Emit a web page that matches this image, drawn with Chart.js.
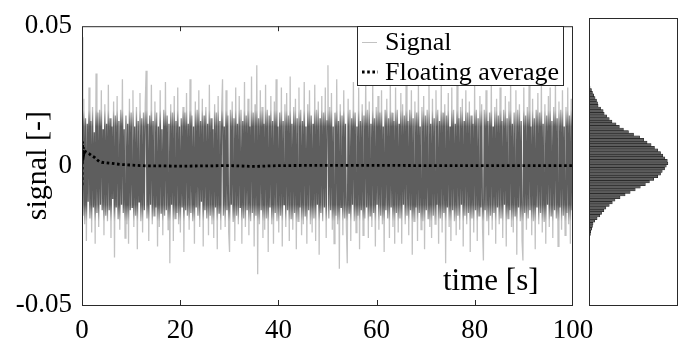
<!DOCTYPE html>
<html>
<head>
<meta charset="utf-8">
<script src="https://cdn.jsdelivr.net/npm/chart.js@4.4.1/dist/chart.umd.min.js"></script>
<style>
  html, body { margin: 0; padding: 0; background: #fff; }
  #wrap { position: relative; width: 694px; height: 343px; }
  #main { position: absolute; left: 0; top: 0; }
  #hist { position: absolute; left: 589px; top: 18px; }
</style>
</head>
<body>
<div id="wrap">
  <canvas id="main" width="694" height="343"></canvas>
  <canvas id="hist" width="89" height="289"></canvas>
</div>
<script>
// signal samples [-], evenly spaced over 0..100 s
const signal = [
  0.046,-0.018,0.024,-0.021,0.017,-0.027,0.015,-0.013,0.028,-0.019,0.016,-0.024,0.021,-0.015,0.012,-0.028,0.033,-0.017,0.019,-0.022,
  0.020,-0.014,0.027,-0.016,0.013,-0.025,0.022,-0.018,0.015,-0.020,0.029,-0.016,0.017,-0.026,0.014,-0.012,0.023,-0.033,0.018,-0.015,
  0.025,-0.019,0.016,-0.023,0.020,-0.014,0.031,-0.017,0.013,-0.026,0.018,-0.021,0.015,-0.028,0.024,-0.016,0.019,-0.015,0.027,-0.022,
  0.014,-0.018,0.021,-0.030,0.016,-0.013,0.026,-0.020,0.017,-0.024,0.019,-0.016,0.022,0.034,-0.019,0.015,-0.027,0.018,-0.014,0.029,
  -0.021,0.016,-0.018,0.023,-0.015,0.019,-0.029,0.014,-0.022,0.027,-0.017,0.013,-0.025,0.020,-0.018,0.030,-0.016,0.018,-0.023,0.015,
  -0.035,0.022,-0.014,0.019,-0.027,0.025,-0.019,0.016,-0.017,0.028,-0.021,0.014,-0.024,0.017,-0.015,0.021,-0.031,0.019,-0.016,0.026,
  -0.018,0.015,-0.023,0.031,-0.017,0.018,-0.020,0.014,-0.028,0.023,-0.015,0.020,-0.018,0.027,-0.022,0.016,-0.013,0.024,-0.029,0.018,
  -0.016,0.021,-0.019,0.015,-0.025,0.029,-0.018,0.017,-0.021,0.013,-0.026,0.022,-0.015,0.019,-0.030,0.025,-0.017,0.016,-0.023,0.020,
  0.031,-0.018,0.014,-0.022,0.027,-0.016,0.018,-0.024,-0.031,0.020,-0.014,0.023,-0.020,0.017,-0.027,0.028,-0.018,0.015,-0.021,0.025,
  -0.015,0.020,-0.028,0.016,-0.019,0.030,-0.022,0.018,-0.016,0.024,-0.025,0.014,-0.020,0.032,-0.017,0.019,-0.029,0.022,-0.018,0.036,
  -0.039,0.017,-0.021,0.027,-0.016,0.021,-0.026,0.015,-0.023,0.029,-0.019,0.020,-0.031,0.018,-0.015,0.025,-0.021,0.016,-0.028,0.023,
  -0.017,0.031,-0.020,0.014,-0.024,0.019,-0.018,0.028,-0.029,0.016,-0.014,0.022,-0.022,0.026,-0.016,0.018,-0.027,0.032,-0.019,0.015,
  -0.023,0.021,-0.017,0.024,-0.030,0.017,-0.020,0.028,-0.015,0.020,-0.025,0.016,-0.021,0.030,-0.018,0.014,-0.028,0.022,-0.016,0.027,
  -0.021,0.018,-0.024,0.015,-0.019,0.029,-0.027,0.020,-0.014,0.023,-0.032,0.017,-0.017,0.025,-0.020,0.019,-0.015,0.028,-0.026,0.016,
  0.036,-0.019,0.021,-0.016,0.026,-0.023,0.014,-0.028,0.019,-0.018,0.031,-0.021,0.016,-0.037,0.022,-0.015,0.018,-0.025,0.027,-0.019,
  0.015,-0.022,-0.035,0.024,-0.017,0.020,-0.027,0.017,-0.014,0.030,-0.020,0.019,-0.024,0.014,-0.018,0.028,-0.030,0.016,-0.016,0.022,
  -0.025,0.018,-0.019,0.032,-0.015,0.020,-0.026,0.023,-0.018,0.015,-0.022,0.029,-0.017,0.017,-0.029,0.021,-0.014,0.025,-0.023,0.019,
  -0.018,0.027,-0.021,0.014,-0.031,0.020,-0.016,0.024,-0.019,0.017,-0.026,0.030,-0.015,0.019,-0.022,0.016,-0.028,0.028,-0.017,0.020,
  -0.024,0.015,-0.019,0.026,-0.028,0.022,-0.014,0.018,-0.021,0.031,-0.018,0.016,-0.025,0.020,-0.016,0.027,-0.032,0.017,-0.020,0.023,
  -0.015,0.019,-0.027,0.029,-0.017,0.014,-0.023,0.021,-0.020,0.025,-0.030,0.018,-0.016,0.020,-0.019,0.033,-0.022,0.015,-0.026,0.024,
  -0.018,0.017,-0.021,0.027,-0.014,0.020,-0.028,0.016,-0.019,0.030,-0.024,0.019,-0.017,0.022,-0.035,0.018,-0.015,0.026,-0.022,0.014,
  -0.027,0.028,-0.016,0.020,-0.020,0.015,-0.025,0.032,-0.018,0.017,-0.023,0.021,-0.014,0.024,-0.029,0.016,-0.018,0.027,-0.021,0.019,
  -0.017,0.023,-0.031,0.018,-0.019,0.015,-0.024,0.029,-0.016,0.020,-0.027,0.017,-0.018,0.025,-0.015,0.022,-0.022,-0.034,0.020,-0.016,
  0.027,-0.020,0.016,-0.025,0.019,-0.018,0.031,-0.023,0.014,-0.017,0.021,-0.028,0.024,-0.015,0.018,-0.021,0.028,-0.019,0.016,-0.026,
  0.020,-0.014,0.025,-0.029,0.017,-0.019,0.023,-0.016,0.030,-0.022,0.015,-0.024,0.019,-0.018,0.027,-0.032,0.020,-0.015,0.022,-0.020,
  0.016,-0.027,-0.034,0.028,-0.017,0.018,-0.023,0.021,-0.019,0.029,-0.016,0.014,-0.025,0.024,-0.020,0.017,-0.030,0.020,-0.015,0.026,
  -0.021,0.019,-0.017,0.031,-0.024,0.015,-0.020,0.022,-0.028,0.018,-0.014,0.025,-0.022,0.028,-0.018,0.016,-0.026,0.021,-0.016,0.030,
  -0.019,0.017,-0.029,0.023,-0.015,0.020,-0.023,0.027,-0.018,0.014,-0.025,0.021,-0.017,0.028,-0.021,0.018,-0.028,0.024,-0.016,0.019
];
const duration = 100; // s
const sampleTimes = signal.map((_, i) => i * duration / (signal.length - 1));

// floating average
const avgTimes = [0, 0.1, 0.2, 0.3, 0.4, 0.5, 0.7, 1, 1.5, 2, 2.5, 3, 3.5, 4, 5, 6, 8, 10, 13, 16, 20, 25, 30, 35, 40, 50, 60, 70, 80, 90, 100];
const avgValues = [-0.007, 0.0086, 0.002, 0.0065, 0.0045, 0.0055, 0.005, 0.0047, 0.0042, 0.0035, 0.003, 0.0022, 0.0015, 0.0012, 0.001, 0.0008, 0.0004, 0.0002, -0.0001, -0.0001, -0.0002, -0.0001, 0, -0.0003, 0, 0.0001, 0.0001, 0, 0, 0, 0];

// histogram of the signal: bin centres and counts
const binCenters = [
  -0.0285,-0.0275,-0.0265,-0.0255,-0.0245,-0.0235,-0.0225,-0.0215,-0.0205,-0.0195,
  -0.0185,-0.0175,-0.0165,-0.0155,-0.0145,-0.0135,-0.0125,-0.0115,-0.0105,-0.0095,
  -0.0085,-0.0075,-0.0065,-0.0055,-0.0045,-0.0035,-0.0025,-0.0015,-0.0005,0.0005,
  0.0015,0.0025,0.0035,0.0045,0.0055,0.0065,0.0075,0.0085,0.0095,0.0105,
  0.0115,0.0125,0.0135,0.0145,0.0155,0.0165,0.0175,0.0185,0.0195,0.0205,
  0.0215,0.0225,0.0235,0.0245,0.0255,0.0265,0.0275,0.0285
];
const binCounts = [
  7,14,17,27,34,40,57,80,107,124,
  147,167,200,230,257,307,357,407,457,507,
  557,597,640,680,707,724,747,764,780,774,
  750,730,707,680,647,614,574,540,500,440,
  390,340,300,267,227,200,174,150,140,114,
  90,84,74,60,47,34,24,10
];

const xTicks = { min: 0, max: 100, step: 20 };
const yTicks = { min: -0.05, max: 0.05, step: 0.05 };

const serif = '"Liberation Serif", "Times New Roman", serif';
const ink = '#000';
const frameColor = '#2a2a2a';
const coreGrey = '#5e5e5e';
const lightGrey = '#c2c2c2';

function signalColor(c) {
  const chart = c.chart;
  if (!chart.chartArea) return coreGrey;
  const y = chart.scales.y;
  const top = y.getPixelForValue(yTicks.max);
  const bot = y.getPixelForValue(yTicks.min);
  const g = chart.ctx.createLinearGradient(0, top, 0, bot);
  const f = v => (yTicks.max - v) / (yTicks.max - yTicks.min);
  g.addColorStop(0, lightGrey);
  g.addColorStop(f(0.02), lightGrey);
  g.addColorStop(f(0.014), coreGrey);
  g.addColorStop(f(-0.014), coreGrey);
  g.addColorStop(f(-0.02), lightGrey);
  g.addColorStop(1, lightGrey);
  return g;
}

const framePlugin = {
  id: 'frame',
  afterDatasetsDraw(chart) {
    const { ctx, chartArea: a, scales: { x } } = chart;
    ctx.save();
    ctx.strokeStyle = frameColor;
    ctx.lineWidth = 1;
    ctx.strokeRect(a.left + 0.5, a.top + 0.5, a.right - a.left - 1, a.bottom - a.top);
    // inward tick marks
    ctx.beginPath();
    x.ticks.forEach(t => {
      if (t.value <= xTicks.min || t.value >= xTicks.max) return;
      const px = Math.round(x.getPixelForValue(t.value)) + 0.5;
      ctx.moveTo(px, a.top); ctx.lineTo(px, a.top + 5);
      ctx.moveTo(px, a.bottom); ctx.lineTo(px, a.bottom - 5);
    });
    ctx.stroke();

    // x label inside the axes
    ctx.fillStyle = ink;
    ctx.font = '31px ' + serif;
    ctx.textBaseline = 'alphabetic';
    ctx.fillText('time [s]', 443, 290);

    // legend
    const ds = chart.data.datasets;
    ctx.fillStyle = '#fff';
    ctx.fillRect(357.5, 26.5, 206, 59);
    ctx.strokeRect(357.5, 26.5, 206, 59);
    ctx.beginPath();
    ctx.strokeStyle = lightGrey;
    ctx.lineWidth = 1;
    ctx.moveTo(362, 42.5); ctx.lineTo(377, 42.5);
    ctx.stroke();
    ctx.beginPath();
    ctx.strokeStyle = '#000';
    ctx.lineWidth = 2.8;
    ctx.setLineDash([2.6, 2.6]);
    ctx.moveTo(362, 72); ctx.lineTo(378, 72);
    ctx.stroke();
    ctx.setLineDash([]);
    ctx.fillStyle = ink;
    ctx.font = '26px ' + serif;
    ctx.fillText(ds[0].label, 385, 50);
    ctx.fillText(ds[1].label, 385, 80);
    ctx.restore();
  }
};

new Chart(document.getElementById('main'), {
  type: 'line',
  data: {
    datasets: [{
      label: 'Signal',
      data: signal.map((v, i) => ({ x: sampleTimes[i], y: v })),
      borderColor: signalColor,
      borderWidth: 1.3,
      pointRadius: 0,
      tension: 0,
      order: 2
    }, {
      label: 'Floating average',
      data: avgValues.map((v, i) => ({ x: avgTimes[i], y: v })),
      borderColor: '#000',
      borderWidth: 2.8,
      borderDash: [2.6, 2.6],
      borderCapStyle: 'butt',
      pointRadius: 0,
      tension: 0,
      order: 1
    }]
  },
  options: {
    responsive: false,
    animation: false,
    events: [],
    layout: { padding: { left: 0, right: 121, top: 18, bottom: 0 } },
    plugins: { legend: { display: false }, tooltip: { enabled: false } },
    scales: {
      x: {
        type: 'linear', min: xTicks.min, max: xTicks.max,
        ticks: { stepSize: xTicks.step, color: ink, font: { family: serif, size: 27 }, padding: 10, maxRotation: 0 },
        grid: { display: false, drawTicks: false },
        border: { display: false },
        afterFit: s => { s.height = 38; }
      },
      y: {
        min: yTicks.min, max: yTicks.max,
        ticks: { stepSize: yTicks.step, color: ink, font: { family: serif, size: 27 }, padding: 10 },
        grid: { display: false, drawTicks: false },
        border: { display: false },
        title: { display: true, text: 'signal [-]', color: ink, font: { family: serif, size: 30 }, padding: { top: 20, bottom: 0 } },
        afterFit: s => { s.width = 82; }
      }
    }
  },
  plugins: [framePlugin]
});

const histFrame = {
  id: 'histFrame',
  afterDraw(chart) {
    const { ctx, width } = chart;
    ctx.save();
    ctx.strokeStyle = frameColor;
    ctx.lineWidth = 1;
    ctx.strokeRect(0.5, 0.5, width - 1, 287);
    ctx.restore();
  }
};

new Chart(document.getElementById('hist'), {
  type: 'bar',
  data: {
    datasets: [{
      data: binCounts.map((c, i) => ({ x: c, y: binCenters[i] })),
      backgroundColor: '#5c5c5c',
      borderColor: '#111',
      borderWidth: 0.5,
      barPercentage: 1,
      categoryPercentage: 1
    }]
  },
  options: {
    indexAxis: 'y',
    responsive: false,
    animation: false,
    events: [],
    layout: { padding: { left: 0, right: 0, top: 0, bottom: 1 } },
    plugins: { legend: { display: false }, tooltip: { enabled: false } },
    scales: {
      x: { display: false, min: 0, max: 880 },
      y: { type: 'linear', display: false, min: yTicks.min, max: yTicks.max }
    }
  },
  plugins: [histFrame]
});
</script>
</body>
</html>
